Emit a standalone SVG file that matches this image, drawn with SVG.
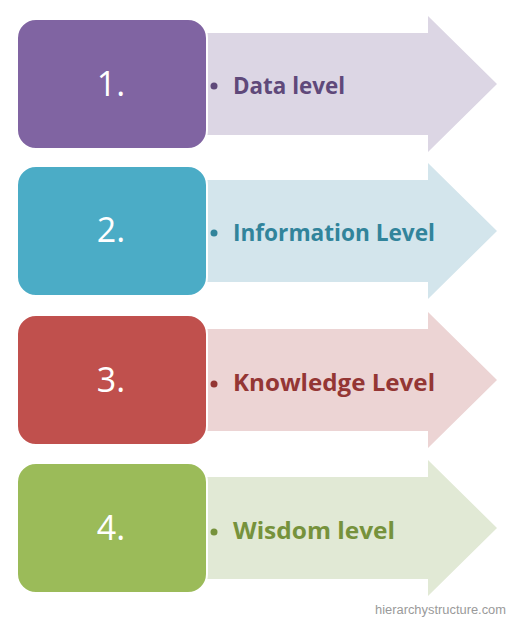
<svg xmlns="http://www.w3.org/2000/svg" width="508" height="620" viewBox="0 0 508 620">
<style>
.box{stroke:#fff;stroke-width:2}
.num{font-family:"Open Sans","Liberation Sans",sans-serif;font-size:34px;fill:#fff;text-anchor:middle}
.lbl{font-family:"Open Sans","Liberation Sans",sans-serif;font-size:24px;font-weight:bold}
.wm{font-family:"Liberation Sans",Arial,sans-serif;font-size:12px;fill:#9a9a9a}
</style>
<rect width="508" height="620" fill="#fff"/>
<g id="connectors"></g>
<g id="node1">
<path d="M200,33 H428 V16 L497,84 L428,152 V135 H200 Z" fill="#dcd6e4"/>
<rect class="box" x="17" y="19" width="190" height="130" rx="19" fill="#8064a2"/>
<text class="num" x="111" y="96">1.</text>
<circle cx="214" cy="86" r="3.5" fill="#5f497a"/>
<text class="lbl" x="233" y="94" fill="#5f497a" textLength="112" lengthAdjust="spacingAndGlyphs">Data level</text>
</g>
<g id="node2">
<path d="M200,180 H428 V163 L497,231 L428,299 V282 H200 Z" fill="#d3e5ec"/>
<rect class="box" x="17" y="166" width="190" height="130" rx="19" fill="#4bacc6"/>
<text class="num" x="111" y="242">2.</text>
<circle cx="214" cy="233" r="3.5" fill="#31849b"/>
<text class="lbl" x="233" y="241" fill="#31849b" textLength="202" lengthAdjust="spacingAndGlyphs">Information Level</text>
</g>
<g id="node3">
<path d="M200,329 H428 V312 L497,380 L428,448 V431 H200 Z" fill="#ecd4d4"/>
<rect class="box" x="17" y="315" width="190" height="130" rx="19" fill="#c0504d"/>
<text class="num" x="111" y="392">3.</text>
<circle cx="214" cy="384" r="3.5" fill="#943634"/>
<text class="lbl" x="233" y="391" fill="#943634" textLength="202" lengthAdjust="spacingAndGlyphs">Knowledge Level</text>
</g>
<g id="node4">
<path d="M200,477 H428 V460 L497,528 L428,596 V579 H200 Z" fill="#e1e9d5"/>
<rect class="box" x="17" y="463" width="190" height="130" rx="19" fill="#9bbb59"/>
<text class="num" x="111" y="540">4.</text>
<circle cx="214" cy="532" r="3.5" fill="#76923c"/>
<text class="lbl" x="233" y="539" fill="#76923c" textLength="162" lengthAdjust="spacingAndGlyphs">Wisdom level</text>
</g>
<text class="wm" x="375" y="614" textLength="131" lengthAdjust="spacingAndGlyphs">hierarchystructure.com</text>
</svg>
